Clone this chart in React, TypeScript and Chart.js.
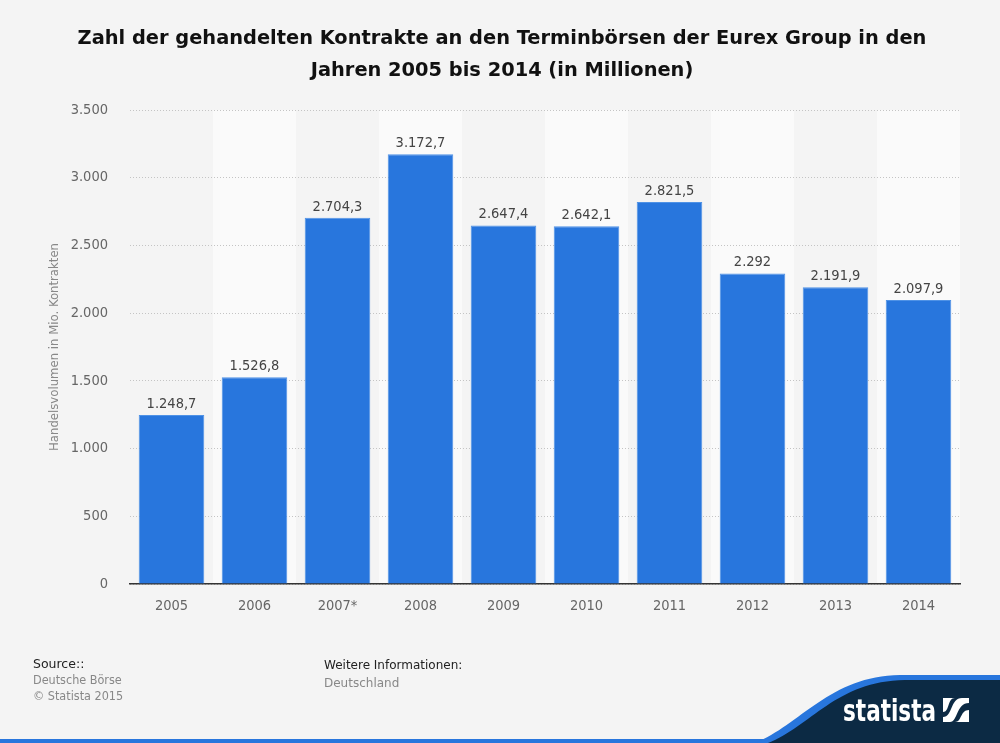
import React, { useEffect, useRef } from "react";
import { Chart, registerables } from "chart.js";

Chart.register(...registerables);

const categories = ["2005", "2006", "2007*", "2008", "2009", "2010", "2011", "2012", "2013", "2014"];
const values = [1248.7, 1526.8, 2704.3, 3172.7, 2647.4, 2642.1, 2821.5, 2292, 2191.9, 2097.9];
const yTicks = [0, 500, 1000, 1500, 2000, 2500, 3000, 3500];
const titleLines = [
  "Zahl der gehandelten Kontrakte an den Terminbörsen der Eurex Group in den",
  "Jahren 2005 bis 2014 (in Millionen)",
];
const yAxisTitle = "Handelsvolumen in Mio. Kontrakten";
const sourceLines = ["Source::", "Deutsche Börse", "© Statista 2015"];
const infoLines = ["Weitere Informationen:", "Deutschland"];
const brandText = "statista";

function fmt(v: number): string {
  const neg = v < 0;
  const abs = Math.abs(v);
  const rounded = Math.round(abs * 10) / 10;
  const intPart = Math.floor(rounded);
  const dec = Math.round((rounded - intPart) * 10);
  const s = String(intPart).replace(/\B(?=(\d{3})+(?!\d))/g, ".");
  return (neg ? "-" : "") + s + (dec ? "," + dec : "");
}

const FONT_C = "'DejaVu Sans Condensed', 'DejaVu Sans', sans-serif";
const FONT = "'DejaVu Sans', sans-serif";

const decorPlugin = {
  id: "decor",
  beforeDraw(chart: any) {
    const { ctx, chartArea, scales } = chart;
    ctx.save();
    ctx.fillStyle = "#f4f4f4";
    ctx.fillRect(0, 0, chart.width, chart.height);
    const xs = scales.x;
    const w = (chartArea.right - chartArea.left) / categories.length;
    categories.forEach((_, i) => {
      const cx = xs.getPixelForValue(i);
      ctx.fillStyle = i % 2 === 1 ? "#fafafa" : "#f4f4f4";
      ctx.fillRect(cx - w / 2, chartArea.top, w, chartArea.bottom - chartArea.top);
    });
    ctx.restore();
  },
  afterDatasetsDraw(chart: any) {
    const { ctx } = chart;
    const meta = chart.getDatasetMeta(0);
    ctx.save();
    ctx.fillStyle = "#444";
    ctx.font = `14.5px ${FONT_C}`;
    ctx.textAlign = "center";
    ctx.textBaseline = "middle";
    meta.data.forEach((bar: any, i: number) => {
      ctx.fillText(fmt(values[i]), bar.x, bar.y - 11);
    });
    ctx.restore();
  },
  afterDraw(chart: any) {
    const { ctx } = chart;
    ctx.save();
    // footer texts
    ctx.textBaseline = "middle";
    ctx.textAlign = "left";
    ctx.font = `12.5px ${FONT}`;
    ctx.fillStyle = "#222";
    ctx.fillText(sourceLines[0], 33, 665);
    ctx.font = `12.5px ${FONT_C}`;
    ctx.fillStyle = "#888";
    ctx.fillText(sourceLines[1], 33, 681);
    ctx.fillText(sourceLines[2], 33, 697);
    ctx.font = `12px ${FONT}`;
    ctx.fillStyle = "#222";
    ctx.fillText(infoLines[0], 324, 666);
    ctx.fillStyle = "#888";
    ctx.fillText(infoLines[1], 324, 684);

    // bottom blue line
    ctx.fillStyle = "#2876dd";
    ctx.fillRect(0, 739, 1000, 4);

    // logo band
    ctx.beginPath();
    ctx.moveTo(755, 743);
    ctx.bezierCurveTo(800, 725, 830, 676, 900, 675);
    ctx.lineTo(1000, 675);
    ctx.lineTo(1000, 743);
    ctx.closePath();
    ctx.fillStyle = "#2876dd";
    ctx.fill();
    ctx.beginPath();
    ctx.moveTo(768, 743);
    ctx.bezierCurveTo(810, 727, 836, 681, 905, 680);
    ctx.lineTo(1000, 680);
    ctx.lineTo(1000, 743);
    ctx.closePath();
    ctx.fillStyle = "#0c2a44";
    ctx.fill();

    ctx.fillStyle = "#ffffff";
    ctx.font = `bold 30px ${FONT_C}`;
    ctx.textBaseline = "alphabetic";
    ctx.fillText(brandText, 843, 721, 93);
    // icon
    ctx.fillRect(943, 698, 26, 24);
    ctx.beginPath();
    ctx.moveTo(950, 722);
    ctx.bezierCurveTo(958, 722, 956, 703, 969, 703);
    ctx.lineTo(969, 710);
    ctx.bezierCurveTo(960, 710, 962, 722, 955, 722);
    ctx.closePath();
    ctx.fillStyle = "#0c2a44";
    ctx.fill();
    ctx.beginPath();
    ctx.moveTo(943, 717);
    ctx.bezierCurveTo(953, 717, 950, 698, 962, 698);
    ctx.lineTo(955, 698);
    ctx.bezierCurveTo(947, 698, 950, 712, 943, 712);
    ctx.closePath();
    ctx.fill();
    ctx.restore();
  },
};

export default function App() {
  const ref = useRef<HTMLCanvasElement | null>(null);
  useEffect(() => {
    if (!ref.current) return;
    const chart = new Chart(ref.current, {
      type: "bar",
      data: {
        labels: categories,
        datasets: [
          {
            data: values,
            backgroundColor: "#2876dd",
            borderColor: "#4f92e6",
            borderWidth: 1,
            barPercentage: 0.79,
            categoryPercentage: 1,
          },
        ],
      },
      options: {
        responsive: false,
        animation: false,
        devicePixelRatio: 1,
        layout: { padding: { left: 44, right: 40, top: 0, bottom: 0 } },
        plugins: {
          legend: { display: false },
          tooltip: { enabled: false },
          title: {
            display: true,
            text: titleLines,
            color: "#111",
            font: { family: FONT, size: 19.4, weight: "bold", lineHeight: 32 / 19.4 },
            padding: { top: 23, bottom: 23 },
          },
        },
        scales: {
          x: {
            grid: { display: false, drawTicks: false },
            border: { display: true, color: "#333", width: 1.5 },
            ticks: { color: "#666", font: { family: FONT_C, size: 14.5 }, padding: 14 },
            afterFit: (s: any) => {
              s.height = 159;
            },
          },
          y: {
            min: 0,
            max: 3500,
            afterBuildTicks: (s: any) => {
              s.ticks = yTicks.map((v) => ({ value: v }));
            },
            grid: { color: "#c4c4c4", drawTicks: false, lineWidth: 1 },
            border: { display: false, dash: [1, 2] },
            ticks: {
              color: "#666",
              font: { family: FONT_C, size: 14.5 },
              padding: 22,
              callback: (v: any) => fmt(Number(v)),
            },
            title: {
              display: true,
              text: yAxisTitle,
              color: "#888",
              font: { family: FONT_C, size: 13 },
              padding: { top: 3, bottom: 4 },
            },
            afterFit: (s: any) => {
              s.width = 86;
            },
          },
        },
      },
      plugins: [decorPlugin],
    } as any);
    return () => chart.destroy();
  }, []);
  return (
    <div style={{ position: "absolute", left: 0, top: 0, width: 1000, height: 743, background: "#f4f4f4" }}>
      <canvas ref={ref} width={1000} height={743} style={{ width: 1000, height: 743, display: "block" }} />
    </div>
  );
}
